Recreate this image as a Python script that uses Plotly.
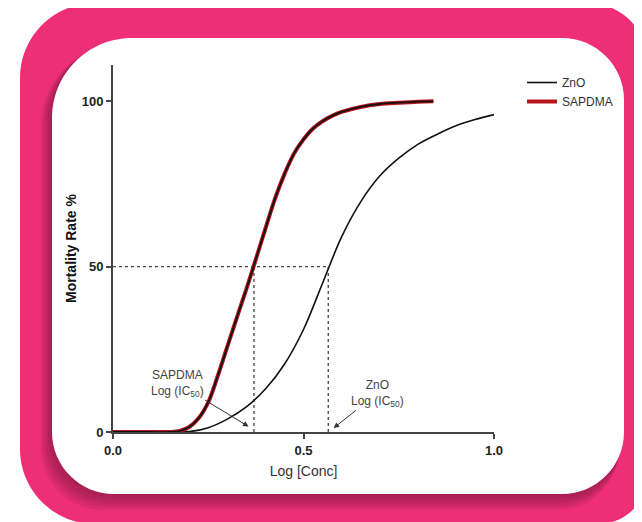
import plotly.graph_objects as go

# ---- data ----
sapdma_x = [0.0, 0.10, 0.15, 0.175, 0.20, 0.225, 0.25, 0.275, 0.30, 0.325, 0.35, 0.375,
            0.40, 0.425, 0.45, 0.475, 0.50, 0.525, 0.55, 0.575, 0.60, 0.65, 0.70, 0.75,
            0.80, 0.841]
sapdma_y = [0, 0, 0, 0.3, 1.5, 4.2, 9.0, 17.0, 25.8, 34.6, 43.2, 52.3,
            61.5, 70.5, 78.0, 84.2, 88.5, 91.8, 94.0, 95.6, 96.8, 98.3, 99.2, 99.6,
            99.9, 100]
zno_x = [0.0, 0.10, 0.20, 0.25, 0.30, 0.35, 0.40, 0.45, 0.50, 0.55, 0.60, 0.65,
         0.70, 0.75, 0.80, 0.85, 0.90, 0.95, 1.0]
zno_y = [0, 0, 0.1, 1.3, 3.9, 7.6, 13.0, 20.5, 31.0, 45.0, 59.0, 69.6,
         77.4, 82.8, 87.0, 90.0, 92.6, 94.5, 96.0]
sapdma_ic50 = 0.370
zno_ic50 = 0.565
x_ticks = [0.0, 0.5, 1.0]
x_labels = ["0.0", "0.5", "1.0"]
y_ticks = [0, 50, 100]
y_labels = ["0", "50", "100"]

# page geometry (the page body adds an 8px offset)
OFF = 8
W, H = 642 - OFF, 522 - OFF
PL, PT, PR, PB = 113, 65, 494, 432          # plot area in page pixels
ML, MT = PL - OFF, PT - OFF
MR, MB = W - (PR - OFF), H - (PB - OFF)
PW, PH = PR - PL, PB - PT


def X(px):
    return (px - PL) / PW


def Y(py):
    return (PB - py) / PH


K = 0.5523


def rrect(x0, y0, x1, y1, rtl, rtr, rbr, rbl):
    def P(x, y):
        return f"{X(x):.5f},{Y(y):.5f}"
    s = f"M{P(x0 + rtl, y0)} L{P(x1 - rtr, y0)} "
    s += f"C{P(x1 - rtr + K * rtr, y0)} {P(x1, y0 + rtr - K * rtr)} {P(x1, y0 + rtr)} "
    s += f"L{P(x1, y1 - rbr)} "
    s += f"C{P(x1, y1 - rbr + K * rbr)} {P(x1 - rbr + K * rbr, y1)} {P(x1 - rbr, y1)} "
    s += f"L{P(x0 + rbl, y1)} "
    s += f"C{P(x0 + rbl - K * rbl, y1)} {P(x0, y1 - rbl + K * rbl)} {P(x0, y1 - rbl)} "
    s += f"L{P(x0, y0 + rtl)} "
    s += f"C{P(x0, y0 + rtl - K * rtl)} {P(x0 + rtl - K * rtl, y0)} {P(x0 + rtl, y0)} Z"
    return s


PINK = "#ee2f78"
shapes = []
shapes.append(dict(type="path", xref="paper", yref="paper", layer="below",
                   path=rrect(20, 3, 648, 524, 75, 60, 50, 75),
                   fillcolor=PINK, line=dict(width=0)))
for i in range(5, 0, -1):
    shapes.append(dict(type="path", xref="paper", yref="paper", layer="below",
                       path=rrect(52 - 2.2 * i, 38 + 1.5 * i, 624 - 1.0 * i, 494 + 3.2 * i, 80, 62, 62, 62),
                       fillcolor="rgba(110,20,55,0.13)", line=dict(width=0)))
shapes.append(dict(type="path", xref="paper", yref="paper", layer="below",
                   path=rrect(52, 38, 624, 494, 80, 62, 62, 62),
                   fillcolor="white", line=dict(width=0)))
dot = dict(color="#444", width=1.3, dash="dot")
shapes.append(dict(type="line", xref="x", yref="y", layer="below",
                   x0=0, y0=50, x1=zno_ic50, y1=50, line=dot))
shapes.append(dict(type="line", xref="x", yref="y", layer="below",
                   x0=sapdma_ic50, y0=0, x1=sapdma_ic50, y1=50, line=dot))
shapes.append(dict(type="line", xref="x", yref="y", layer="below",
                   x0=zno_ic50, y0=0, x1=zno_ic50, y1=50, line=dot))

fig = go.Figure()
fig.add_trace(go.Scatter(x=zno_x, y=zno_y, mode="lines", name="ZnO",
                         line=dict(color="#111", width=1.6, shape="spline", smoothing=1.0),
                         cliponaxis=False))
fig.add_trace(go.Scatter(x=sapdma_x, y=sapdma_y, mode="lines", name="SAPDMA",
                         line=dict(color="#b8141c", width=4, shape="spline", smoothing=1.0),
                         cliponaxis=False))
fig.add_trace(go.Scatter(x=sapdma_x, y=sapdma_y, mode="lines", name="SAPDMA fit",
                         showlegend=False,
                         line=dict(color="#111", width=1.8, shape="spline", smoothing=1.0),
                         cliponaxis=False))

ann_font = dict(family="Liberation Sans", size=12, color="#444")
annotations = [
    dict(x=0.358, y=1.5, ax=0.168, ay=14.8, xref="x", yref="y", axref="x", ayref="y",
         text="SAPDMA<br>Log (IC<sub>50</sub>)", font=ann_font, align="center",
         showarrow=True, arrowhead=2, arrowsize=1.1, arrowwidth=1, arrowcolor="#333",
         standoff=1),
    dict(x=0.577, y=1.0, ax=0.694, ay=11.7, xref="x", yref="y", axref="x", ayref="y",
         text="ZnO<br>Log (IC<sub>50</sub>)", font=ann_font, align="center",
         showarrow=True, arrowhead=2, arrowsize=1.1, arrowwidth=1, arrowcolor="#333",
         standoff=1),
]

axis_common = dict(showline=True, linecolor="#444", linewidth=2, ticks="outside",
                   ticklen=5, tickwidth=1.6, tickcolor="#444", showgrid=False,
                   zeroline=False, tickfont=dict(family="Liberation Sans", size=13, color="#222"))

fig.update_layout(
    width=W, height=H,
    margin=dict(l=ML, r=MR, t=MT, b=MB, pad=0),
    paper_bgcolor="white", plot_bgcolor="rgba(0,0,0,0)",
    font=dict(family="Liberation Sans", color="#333"),
    shapes=shapes, annotations=annotations,
    xaxis=dict(range=[0, 1], tickvals=x_ticks,
               ticktext=[f"<b>{t}</b>" for t in x_labels],
               title=dict(text="Log [Conc]", font=dict(size=14, color="#333"), standoff=10),
               **axis_common),
    yaxis=dict(range=[0, 111], tickvals=y_ticks,
               ticktext=[f"<b>{t}</b>" for t in y_labels],
               title=dict(text="<b>Mortality Rate %</b>", font=dict(size=14, color="#111"), standoff=2),
               **axis_common),
    legend=dict(x=X(522), y=Y(68), xanchor="left", yanchor="top",
                bgcolor="rgba(0,0,0,0)", font=dict(size=12, color="#333"),
                tracegroupgap=0, itemwidth=30),
)

fig.write_html("out.html")
